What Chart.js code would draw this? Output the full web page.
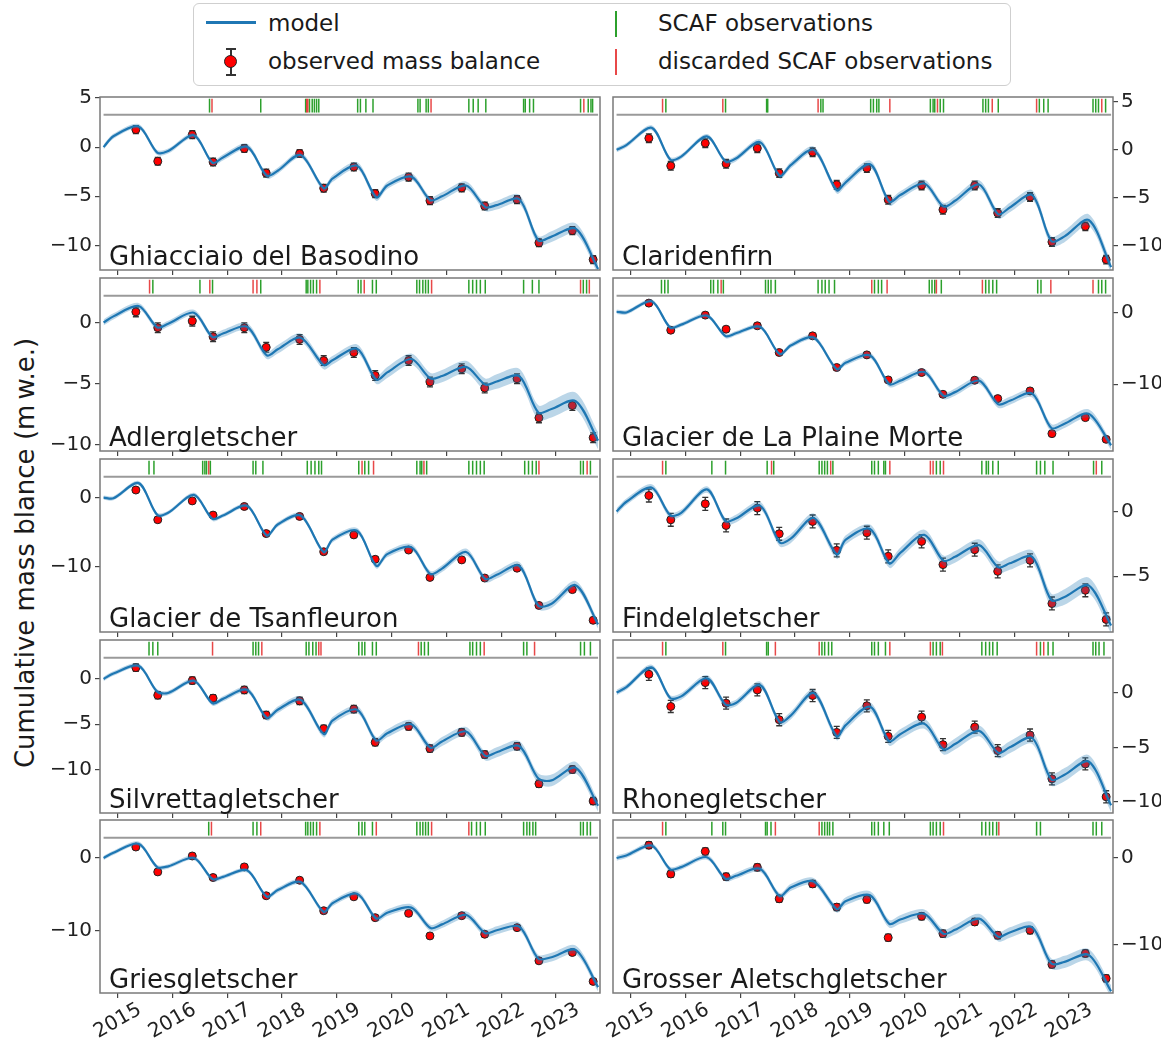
<!DOCTYPE html>
<html>
<head>
<meta charset="utf-8">
<script src="https://cdn.jsdelivr.net/npm/chart.js@4.4.0/dist/chart.umd.min.js"></script>
<style>
  body { margin: 0; background: #fff; width: 1171px; height: 1042px; position: relative; overflow: hidden; font-family: "DejaVu Sans", sans-serif; }
  canvas { position: absolute; }
  #legend { position: absolute; left: 193px; top: 3px; width: 816px; height: 81px; border: 1px solid #cfcfcf; border-radius: 6px; }
  #legend div { position: absolute; }
  .txt { font-size: 23px; line-height: 26px; height: 26px; color: #1a1a1a; white-space: nowrap; }
  #ylabel { position: absolute; left: 25px; top: 553px; transform: translate(-50%, -50%) rotate(-90deg); font-size: 26px; white-space: nowrap; color: #1a1a1a; }
</style>
</head>
<body>
<div id="legend">
  <div style="left:12px;top:17px;width:50px;height:3px;background:#1f77b4"></div>
  <div class="txt" style="left:74px;top:6px">model</div>
  <div style="left:36px;top:44px;width:1.5px;height:27px;background:#333"></div>
  <div style="left:32px;top:44px;width:10px;height:1.5px;background:#333"></div>
  <div style="left:32px;top:70px;width:10px;height:1.5px;background:#333"></div>
  <div style="left:30px;top:51px;width:11px;height:11px;border-radius:50%;background:red;border:1px solid #222"></div>
  <div class="txt" style="left:74px;top:44px">observed mass balance</div>
  <div style="left:421px;top:7px;width:2px;height:26px;background:#2ca02c"></div>
  <div class="txt" style="left:464px;top:6px">SCAF observations</div>
  <div style="left:421px;top:45px;width:2px;height:26px;background:rgba(228,40,40,0.85)"></div>
  <div class="txt" style="left:464px;top:44px">discarded SCAF observations</div>
</div>
<div id="ylabel">Cumulative mass blance (m&#8201;w.e.)</div>
<script>
// decimal years
const years = [2015, 2016, 2017, 2018, 2019, 2020, 2021, 2022, 2023];
const obsDates = [2015.33, 2015.73, 2016.36, 2016.74, 2017.31, 2017.71, 2018.32, 2018.76, 2019.31,
  2019.70, 2020.31, 2020.70, 2021.28, 2021.70, 2022.29, 2022.69, 2023.30, 2023.68];
const modelDates = [2014.74, 2014.92, 2015.38, 2015.72, 2015.92, 2016.39, 2016.73, 2016.92, 2017.36, 2017.72,
  2017.92, 2018.34, 2018.76, 2018.92, 2019.37, 2019.72, 2019.92, 2020.36, 2020.71, 2020.92, 2021.36, 2021.71,
  2021.92, 2022.33, 2022.68, 2022.92, 2023.36, 2023.77];

const basodinoModel = [0, 1.1, 2.1, -0.55, -0.4, 1.2, -1.6, -1.05, 0.05, -2.9, -2.4, -0.8, -4.2, -3.2, -1.9, -5.1, -3.9, -3.0, -5.4, -5.0, -3.9, -6.1, -5.9, -5.3, -9.5, -9.1, -8.3, -12.4];
const basodinoObs = [1.78, -1.44, 1.27, -1.51, -0.14, -2.64, -0.65, -4.18, -2.02, -4.73, -3.05, -5.45, -4.14, -5.99, -5.34, -9.73, -8.49, -11.44];
const basodinoSpread = [0.25, 0.25, 0.3, 0.3, 0.35, 0.35, 0.4, 0.45, 0.55];
const basodinoScaf = [2016.675, 2017.61, 2018.43, 2018.5, 2018.55, 2018.59, 2018.63, 2018.67, 2019.38, 2019.43, 2019.53, 2019.66, 2020.48, 2020.52, 2020.63, 2020.67, 2021.41, 2021.49, 2021.58, 2021.72, 2022.41, 2022.44, 2022.52, 2022.59, 2023.45, 2023.59, 2023.64, 2023.67];
const basodinoDiscarded = [2016.72, 2018.45, 2018.47, 2020.72, 2023.51];

const claridenModel = [0, 0.5, 2.3, -1.0, -0.7, 1.4, -1.2, -0.9, 0.8, -2.7, -1.6, 0.0, -4.2, -3.4, -1.5, -5.4, -4.7, -3.5, -5.9, -5.3, -3.6, -6.7, -6.0, -4.7, -9.5, -9.0, -7.3, -12.2];
const claridenObs = [1.21, -1.66, 0.69, -1.45, 0.17, -2.42, -0.24, -3.63, -1.9, -5.19, -3.7, -6.23, -3.7, -6.57, -4.91, -9.58, -7.96, -11.42];
const claridenSpread = [0.25, 0.25, 0.3, 0.35, 0.4, 0.4, 0.45, 0.5, 0.6];
const claridenScaf = [2015.64, 2016.73, 2017.48, 2017.50, 2018.47, 2018.51, 2019.38, 2019.43, 2019.49, 2019.53, 2020.47, 2020.52, 2020.55, 2020.65, 2020.71, 2021.43, 2021.48, 2021.53, 2021.71, 2022.46, 2022.54, 2022.62, 2023.44, 2023.49, 2023.54, 2023.67];
const claridenDiscarded = [2015.58, 2016.68, 2018.42, 2019.73, 2020.60, 2021.60, 2022.41, 2023.60];

const adlerModel = [0, 0.5, 1.35, -0.4, -0.1, 0.8, -1.2, -0.9, -0.35, -2.7, -2.2, -1.25, -3.5, -3.1, -2.15, -4.7, -4.1, -3.0, -4.6, -4.4, -3.65, -5.1, -4.85, -4.4, -7.4, -7.1, -6.45, -9.7];
const adlerObs = [0.87, -0.43, 0.11, -1.17, -0.43, -2.04, -1.39, -3.13, -2.47, -4.35, -3.13, -4.89, -3.8, -5.38, -4.62, -7.83, -6.82, -9.46];
const adlerSpread = [0.25, 0.25, 0.3, 0.35, 0.35, 0.45, 0.5, 0.6, 0.7];
const adlerScaf = [2015.64, 2016.50, 2016.73, 2017.61, 2018.44, 2018.47, 2018.52, 2018.57, 2018.63, 2019.39, 2019.44, 2019.65, 2019.72, 2020.46, 2020.51, 2020.57, 2020.62, 2020.67, 2021.41, 2021.48, 2021.55, 2021.62, 2021.71, 2022.41, 2022.57, 2022.69, 2023.50, 2023.56];
const adlerDiscarded = [2015.58, 2016.68, 2017.47, 2017.54, 2018.69, 2019.50, 2020.73, 2023.45, 2023.61];

const plaineMorteModel = [0.1, 0.0, 1.55, -2.1, -1.7, -0.45, -3.3, -2.9, -2.0, -5.8, -4.6, -3.5, -7.9, -7.0, -6.0, -10.0, -9.5, -8.3, -11.6, -11.1, -9.5, -12.8, -12.3, -11.3, -16.1, -15.5, -14.1, -18.5];
const plaineMorteObs = [1.3, -2.47, -0.37, -2.33, -1.86, -5.58, -3.26, -7.67, -5.91, -9.4, -8.37, -11.4, -9.44, -12.0, -10.93, -16.88, -14.65, -17.67];
const plaineMorteSpread = [0.3, 0.3, 0.3, 0.35, 0.4, 0.45, 0.5, 0.55, 0.6];
const plaineMorteScaf = [2015.56, 2015.62, 2015.68, 2016.46, 2016.51, 2016.59, 2016.69, 2017.46, 2017.51, 2017.56, 2017.64, 2018.42, 2018.49, 2018.55, 2018.62, 2018.72, 2019.45, 2019.52, 2019.58, 2020.45, 2020.50, 2020.55, 2020.67, 2021.48, 2021.54, 2021.61, 2021.68, 2022.43, 2022.49, 2023.54, 2023.60, 2023.67];
const plaineMorteDiscarded = [2016.65, 2019.40, 2019.68, 2020.58, 2021.42, 2022.67, 2023.44];

const tsanfleuronModel = [0, -0.1, 2.1, -2.5, -2.2, 0.4, -3.1, -2.6, -1.2, -5.5, -3.9, -2.6, -7.9, -6.1, -4.8, -9.9, -8.2, -7.2, -11.1, -10.3, -7.9, -11.8, -11.2, -9.9, -15.7, -15.4, -12.7, -18.4];
const tsanfleuronObs = [1.1, -3.21, -0.48, -2.54, -1.29, -5.22, -2.73, -7.85, -5.41, -8.95, -7.61, -11.58, -9.04, -11.67, -10.24, -15.65, -13.35, -17.8];
const tsanfleuronSpread = [0.3, 0.3, 0.3, 0.35, 0.4, 0.45, 0.5, 0.55, 0.6];
const tsanfleuronScaf = [2015.57, 2015.66, 2016.55, 2016.59, 2016.62, 2016.69, 2017.47, 2017.52, 2017.65, 2018.46, 2018.53, 2018.60, 2018.67, 2018.72, 2019.40, 2019.51, 2019.58, 2020.46, 2020.52, 2020.55, 2020.64, 2021.41, 2021.48, 2021.55, 2021.62, 2021.69, 2022.43, 2022.50, 2022.57, 2022.64, 2023.45, 2023.50, 2023.63];
const tsanfleuronDiscarded = [2016.66, 2019.46, 2019.67, 2020.59, 2022.69, 2023.57];

const findelModel = [0, 0.75, 1.85, -0.3, -0.1, 1.7, -0.75, -0.55, 0.45, -2.4, -2.1, -0.5, -3.3, -2.2, -1.35, -4.0, -3.2, -1.8, -3.8, -3.5, -2.6, -4.3, -4.0, -3.5, -6.85, -6.6, -5.7, -8.8];
const findelObs = [1.23, -0.64, 0.59, -1.08, 0.26, -1.72, -0.77, -3.0, -1.64, -3.46, -2.31, -4.1, -2.95, -4.62, -3.77, -7.1, -6.08, -8.33];
const findelSpread = [0.25, 0.25, 0.3, 0.35, 0.35, 0.4, 0.45, 0.5, 0.6];
const findelScaf = [2015.64, 2016.48, 2016.73, 2017.49, 2017.61, 2018.44, 2018.49, 2018.54, 2018.59, 2018.69, 2019.40, 2019.45, 2019.52, 2019.62, 2019.65, 2020.58, 2020.65, 2021.41, 2021.49, 2021.53, 2021.61, 2021.71, 2022.41, 2022.48, 2022.56, 2022.71, 2023.45, 2023.60];
const findelDiscarded = [2015.58, 2017.57, 2018.65, 2019.73, 2020.47, 2020.52, 2020.71, 2023.50];

const silvrettaModel = [0, 0.6, 1.45, -1.4, -1.55, -0.2, -2.7, -2.2, -1.2, -4.3, -3.4, -2.3, -6.1, -4.6, -3.4, -6.8, -6.0, -5.0, -7.6, -6.9, -5.8, -8.5, -8.1, -7.4, -11.0, -11.2, -9.8, -14.0];
const silvrettaObs = [1.25, -1.79, -0.18, -2.12, -1.21, -3.99, -2.42, -5.49, -3.33, -7.0, -5.24, -7.69, -5.9, -8.35, -7.44, -11.58, -10.0, -13.48];
const silvrettaSpread = [0.25, 0.25, 0.3, 0.35, 0.4, 0.45, 0.5, 0.55, 0.65];
const silvrettaScaf = [2015.57, 2015.64, 2015.73, 2017.47, 2017.52, 2017.57, 2018.44, 2018.49, 2018.56, 2018.62, 2019.40, 2019.46, 2019.51, 2019.65, 2019.72, 2020.54, 2020.60, 2020.67, 2021.43, 2021.48, 2021.55, 2021.62, 2022.41, 2022.47, 2023.45, 2023.52, 2023.63];
const silvrettaDiscarded = [2016.73, 2017.63, 2018.67, 2018.71, 2020.49, 2021.69, 2022.61];

const rhoneModel = [0, 0.5, 2.3, -0.5, -0.35, 1.3, -1.1, -0.95, 0.7, -2.7, -2.1, -0.05, -4.0, -3.0, -1.3, -4.45, -3.8, -2.85, -5.2, -4.7, -3.5, -5.5, -5.0, -4.15, -7.95, -7.5, -6.3, -10.3];
const rhoneObs = [1.67, -1.27, 0.91, -0.97, 0.24, -2.48, -0.27, -3.64, -1.21, -4.0, -2.24, -4.76, -3.15, -5.3, -3.88, -7.88, -6.52, -9.52];
const rhoneSpread = [0.25, 0.3, 0.3, 0.35, 0.4, 0.45, 0.5, 0.55, 0.6];
const rhoneScaf = [2015.64, 2016.73, 2017.48, 2017.51, 2018.49, 2018.54, 2018.61, 2018.67, 2019.40, 2019.45, 2019.52, 2019.65, 2020.52, 2020.58, 2020.65, 2021.41, 2021.48, 2021.55, 2021.61, 2021.69, 2022.48, 2022.62, 2022.71, 2023.44, 2023.49, 2023.55, 2023.64];
const rhoneDiscarded = [2015.58, 2016.68, 2017.64, 2018.44, 2019.73, 2020.47, 2020.69, 2022.41, 2022.54];

const griesModel = [0, 0.7, 1.95, -1.25, -1.15, 0.0, -2.9, -2.6, -1.7, -5.3, -4.4, -3.3, -7.4, -6.2, -4.9, -8.3, -7.5, -6.8, -9.6, -9.1, -7.8, -10.3, -9.9, -9.4, -13.8, -13.6, -12.6, -17.7];
const griesObs = [1.5, -1.91, 0.27, -2.68, -1.23, -5.18, -3.05, -7.23, -5.32, -8.18, -7.59, -10.68, -7.91, -10.45, -9.55, -14.09, -12.95, -16.91];
const griesSpread = [0.3, 0.3, 0.3, 0.35, 0.4, 0.45, 0.5, 0.55, 0.6];
const griesScaf = [2016.66, 2017.47, 2017.54, 2018.43, 2018.47, 2018.52, 2018.57, 2018.63, 2019.40, 2019.46, 2019.51, 2019.65, 2020.46, 2020.52, 2020.57, 2020.62, 2020.67, 2021.46, 2021.55, 2021.62, 2021.71, 2022.41, 2022.47, 2022.52, 2022.58, 2022.63, 2023.45, 2023.50, 2023.57, 2023.63];
const griesDiscarded = [2016.71, 2017.61, 2018.69, 2019.72, 2020.73, 2021.41];

const aletschModel = [0, 0.3, 1.45, -1.3, -1.05, 0.1, -2.4, -2.05, -1.25, -4.4, -3.4, -2.7, -5.9, -5.0, -4.3, -7.6, -7.1, -6.45, -8.75, -8.3, -7.0, -9.1, -8.6, -8.0, -12.2, -12.0, -11.2, -15.4];
const aletschObs = [1.49, -1.84, 0.77, -2.15, -1.07, -4.71, -2.99, -5.67, -4.79, -9.2, -6.74, -8.74, -7.39, -8.93, -8.35, -12.3, -11.03, -13.91];
const aletschSpread = [0.3, 0.3, 0.35, 0.4, 0.45, 0.5, 0.55, 0.6, 0.7];
const aletschScaf = [2015.64, 2016.48, 2016.68, 2016.73, 2017.46, 2017.49, 2017.56, 2018.49, 2018.54, 2018.59, 2018.63, 2018.69, 2019.40, 2019.45, 2019.52, 2019.62, 2019.72, 2020.47, 2020.52, 2020.58, 2020.65, 2021.41, 2021.48, 2021.55, 2021.61, 2021.68, 2022.41, 2022.48, 2023.44, 2023.50, 2023.60];
const aletschDiscarded = [2015.58, 2017.64, 2018.44, 2020.71, 2021.72];

const panels = [
  { name: "Ghiacciaio del Basodino", model: basodinoModel, obs: basodinoObs, spread: basodinoSpread, err: 0.4, scaf: basodinoScaf, discarded: basodinoDiscarded, yMin: -12.5, yMax: 5.1, yTicks: [5, 0, -5, -10] },
  { name: "Claridenfirn", model: claridenModel, obs: claridenObs, spread: claridenSpread, err: 0.45, scaf: claridenScaf, discarded: claridenDiscarded, yMin: -12.5, yMax: 5.5, yTicks: [5, 0, -5, -10] },
  { name: "Adlergletscher", model: adlerModel, obs: adlerObs, spread: adlerSpread, err: 0.4, scaf: adlerScaf, discarded: adlerDiscarded, yMin: -10.55, yMax: 3.65, yTicks: [0, -5, -10] },
  { name: "Glacier de La Plaine Morte", model: plaineMorteModel, obs: plaineMorteObs, spread: plaineMorteSpread, err: 0.35, scaf: plaineMorteScaf, discarded: plaineMorteDiscarded, yMin: -19.3, yMax: 4.8, yTicks: [0, -10] },
  { name: "Glacier de Tsanfleuron", model: tsanfleuronModel, obs: tsanfleuronObs, spread: tsanfleuronSpread, err: 0.35, scaf: tsanfleuronScaf, discarded: tsanfleuronDiscarded, yMin: -19.5, yMax: 5.6, yTicks: [0, -10] },
  { name: "Findelgletscher", model: findelModel, obs: findelObs, spread: findelSpread, err: 0.5, scaf: findelScaf, discarded: findelDiscarded, yMin: -9.3, yMax: 4.05, yTicks: [0, -5] },
  { name: "Silvrettagletscher", model: silvrettaModel, obs: silvrettaObs, spread: silvrettaSpread, err: 0.4, scaf: silvrettaScaf, discarded: silvrettaDiscarded, yMin: -14.8, yMax: 4.3, yTicks: [0, -5, -10] },
  { name: "Rhonegletscher", model: rhoneModel, obs: rhoneObs, spread: rhoneSpread, err: 0.55, scaf: rhoneScaf, discarded: rhoneDiscarded, yMin: -11.0, yMax: 4.8, yTicks: [0, -5, -10] },
  { name: "Griesgletscher", model: griesModel, obs: griesObs, spread: griesSpread, err: 0.35, scaf: griesScaf, discarded: griesDiscarded, yMin: -18.5, yMax: 5.2, yTicks: [0, -10] },
  { name: "Grosser Aletschgletscher", model: aletschModel, obs: aletschObs, spread: aletschSpread, err: 0.4, scaf: aletschScaf, discarded: aletschDiscarded, yMin: -15.6, yMax: 4.4, yTicks: [0, -10] },
];

const BLUE = "#1f77b4";
const GREEN = "#2ca02c";
const RED = "rgba(228, 40, 40, 0.85)";
const ROW_TOP = [97, 278, 459, 640, 820];
const PANEL_H = 173;
const CURVE = 0.3;

Chart.defaults.font.family = "'DejaVu Sans', sans-serif";

const minus = (v) => (v < 0 ? "\u2212" + Math.abs(v) : String(v));

function makeDecor(p) {
  return {
    id: "decor",
    beforeDatasetDraw(chart, args) {
      if (args.index !== 3) return;
      const { ctx, scales: { x, y } } = chart;
      ctx.save();
      ctx.strokeStyle = "#333";
      ctx.lineWidth = 1.3;
      p.obs.forEach((v, i) => {
        const px = x.getPixelForValue(obsDates[i]);
        const top = y.getPixelForValue(v + p.err);
        const bot = y.getPixelForValue(v - p.err);
        ctx.beginPath();
        ctx.moveTo(px, top); ctx.lineTo(px, bot);
        ctx.moveTo(px - 3, top); ctx.lineTo(px + 3, top);
        ctx.moveTo(px - 3, bot); ctx.lineTo(px + 3, bot);
        ctx.stroke();
      });
      ctx.restore();
    },
    afterDatasetsDraw(chart) {
      const { ctx, chartArea: a, scales: { x } } = chart;
      ctx.save();
      // SCAF strip
      const yTop = a.bottom - 0.99 * a.height;
      const yBot = a.bottom - 0.91 * a.height;
      ctx.lineWidth = 1.5;
      [[p.scaf, GREEN], [p.discarded, RED]].forEach(([list, col]) => {
        ctx.strokeStyle = col;
        list.forEach((d) => {
          const px = x.getPixelForValue(d);
          ctx.beginPath();
          ctx.moveTo(px, yTop);
          ctx.lineTo(px, yBot);
          ctx.stroke();
        });
      });
      const yLine = a.bottom - 0.898 * a.height;
      ctx.strokeStyle = "#9a9a9a";
      ctx.lineWidth = 2;
      ctx.beginPath();
      ctx.moveTo(x.getPixelForValue(modelDates[0]), yLine);
      ctx.lineTo(x.getPixelForValue(modelDates[modelDates.length - 1]), yLine);
      ctx.stroke();
      // frame
      ctx.strokeStyle = "#7a7a7a";
      ctx.lineWidth = 1.5;
      ctx.strokeRect(a.left, a.top, a.width, a.height);
      // glacier name
      ctx.fillStyle = "#1a1a1a";
      ctx.font = "26px 'DejaVu Sans'";
      ctx.textAlign = "left";
      ctx.textBaseline = "alphabetic";
      ctx.fillText(p.name, a.left + 9, a.bottom - 5);
      ctx.restore();
    },
  };
}

panels.forEach((p, i) => {
  const col = i % 2;
  const row = Math.floor(i / 2);
  const xh = row === 4 ? 62 : 8;
  const left = col === 0 ? 20 : 570;
  const width = col === 0 ? 590 : 601;
  const top = ROW_TOP[row] - 20;
  const height = 20 + PANEL_H + xh + 12;
  const canvas = document.createElement("canvas");
  canvas.width = width;
  canvas.height = height;
  canvas.style.left = left + "px";
  canvas.style.top = top + "px";
  canvas.style.width = width + "px";
  canvas.style.height = height + "px";
  document.body.appendChild(canvas);

  const yearIdx = (k) => (k === 0 ? 0 : Math.floor((k - 1) / 3));
  const lower = modelDates.map((d, k) => ({ x: d, y: p.model[k] - p.spread[yearIdx(k)] }));
  const upper = modelDates.map((d, k) => ({ x: d, y: p.model[k] + p.spread[yearIdx(k)] }));
  const line = modelDates.map((d, k) => ({ x: d, y: p.model[k] }));
  const points = obsDates.map((d, k) => ({ x: d, y: p.obs[k] }));

  new Chart(canvas, {
    type: "line",
    data: {
      datasets: [
        { data: lower, borderWidth: 0, pointRadius: 0, fill: false, tension: CURVE },
        { data: upper, borderWidth: 0, pointRadius: 0, fill: "-1", backgroundColor: "rgba(31,119,180,0.3)", tension: CURVE },
        { data: line, borderColor: BLUE, borderWidth: 2.2, pointRadius: 0, fill: false, tension: CURVE, borderJoinStyle: "round" },
        { data: points, showLine: false, pointRadius: 4, pointBackgroundColor: "red", pointBorderColor: "#222", pointBorderWidth: 1 },
      ],
    },
    options: {
      responsive: false,
      animation: false,
      events: [],
      layout: { padding: col === 0 ? { left: 32, right: 10, top: 20, bottom: 12 } : { left: 43, right: 10, top: 20, bottom: 12 } },
      plugins: { legend: { display: false }, tooltip: { enabled: false } },
      scales: {
        x: {
          type: "linear",
          min: 2014.675,
          max: 2023.805,
          afterBuildTicks: (s) => { s.ticks = years.map((v) => ({ value: v })); },
          afterFit: (s) => { s.height = xh; },
          border: { display: false },
          grid: { drawOnChartArea: false, drawTicks: true, tickLength: 5, color: "#444", lineWidth: 1.2 },
          ticks: {
            display: row === 4,
            autoSkip: false,
            minRotation: 30,
            maxRotation: 30,
            labelOffset: 22,
            padding: 0,
            color: "#222",
            font: { size: 20 },
            callback: (v) => String(v),
          },
        },
        y: {
          position: col === 0 ? "left" : "right",
          min: p.yMin,
          max: p.yMax,
          afterBuildTicks: (s) => { s.ticks = p.yTicks.map((v) => ({ value: v })); },
          afterFit: (s) => { s.width = 48; },
          border: { display: false },
          grid: { drawOnChartArea: false, drawTicks: true, tickLength: 5, color: "#444", lineWidth: 1.2 },
          ticks: { autoSkip: false, padding: 3, color: "#222", font: { size: 20 }, callback: minus },
        },
      },
    },
    plugins: [makeDecor(p)],
  });
});
</script>
</body>
</html>
